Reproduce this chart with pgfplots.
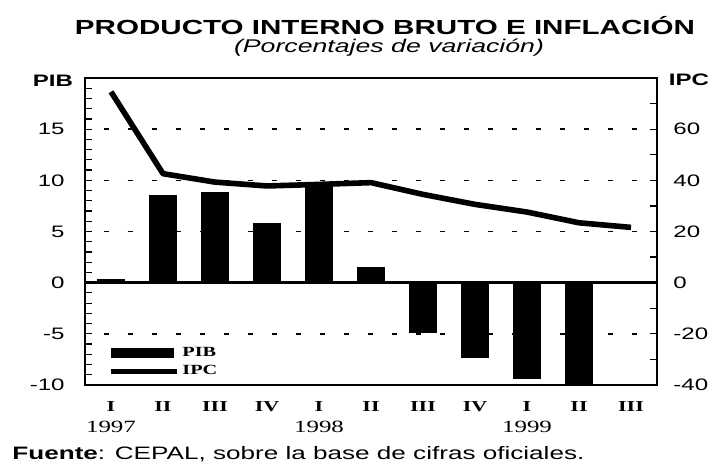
\documentclass[border=0pt]{standalone}
\usepackage{fontspec}
\setmainfont{Liberation Sans}[FakeStretch=1.45]
\newfontfamily\serifw{Liberation Serif}[FakeStretch=1.45]
\usepackage{pgfplots}
\pgfplotsset{compat=1.18}

\newcommand{\rn}[1]{{\serifw\bfseries\fontsize{7.6}{8}\selectfont #1}}
\newcommand{\yr}[1]{{\serifw\fontsize{8.6}{9}\selectfont #1}}

\pgfplotsset{
  cepal/.style={
    width=286pt, height=153.5pt, scale only axis,
    xmin=-0.5, xmax=10.5,
    axis line style={line width=1pt},
    tick style={line width=0.6pt, black},
    major tick length=3.5pt, minor tick length=3.5pt,
    tick align=inside,
    yticklabel style={font=\fontsize{8.3}{9}\selectfont, inner sep=0pt},
  }
}

\begin{document}
\begin{tikzpicture}
% eje izquierdo: PIB (barras)
\begin{axis}[
  cepal, name=ax,
  ymin=-10, ymax=20,
  ytick={-10,-5,0,5,10,15},
  yticklabels={-10,-5,0,5,10,15},
  minor ytick={-9,-8,...,19},
  ytick pos=left,
  yticklabel style={anchor=east, xshift=-10pt},
  xtick={0,...,10},
  xtick style={draw=none},
  xticklabels={{\rn{I}\\[-1.5pt]\yr{1997}}, \rn{II}, \rn{III}, \rn{IV},
               {\rn{I}\\[-1.5pt]\yr{1998}}, \rn{II}, \rn{III}, \rn{IV},
               {\rn{I}\\[-1.5pt]\yr{1999}}, \rn{II}, \rn{III}},
  xticklabel style={align=center, anchor=north, inner sep=0pt, yshift=-8pt},
  ymajorgrids,
  major grid style={black, line width=0.7pt, dash pattern=on 2.5pt off 9.5pt, dash phase=2.5pt},
]
  \addplot[ybar, bar width=13.5pt, fill=black, draw=black]
    coordinates {(0,0.3)(1,8.5)(2,8.8)(3,5.8)(4,9.5)(5,1.5)
                 (6,-4.9)(7,-7.3)(8,-9.4)(9,-9.8)};
  \draw[line width=1.5pt] (axis cs:-0.5,0) -- (axis cs:10.5,0);
\end{axis}

% eje derecho: IPC (linea)
\begin{axis}[
  cepal,
  ymin=-40, ymax=80,
  axis y line*=right, axis x line=none,
  ytick={-40,-20,0,20,40,60},
  yticklabels={-40,-20,0,20,40,60},
  minor ytick={-30,-10,10,30,50,70},
  yticklabel style={anchor=west, xshift=8pt},
  legend style={at={(axis description cs:0,0)}, anchor=south west,
    xshift=11.5pt, yshift=2pt, draw=none, fill=none,
    font=\serifw\bfseries\fontsize{7}{7}\selectfont,
    row sep=0pt, inner sep=0pt,
    nodes={inner sep=1.5pt}},
  legend cell align=left,
]
  \addlegendimage{legend image code/.code={\fill[black] (0pt,-2.2pt) rectangle (31pt,2.2pt);}}
  \addlegendentry{PIB}
  \addplot[black, line width=2.8pt, line join=round,
    legend image code/.code={\draw[black, line width=2.5pt] (0pt,0pt) -- (33pt,0pt);}]
    coordinates {(0,74.6)(1,42.6)(2,39.3)(3,37.8)(4,38.4)(5,39.1)
                 (6,34.5)(7,30.6)(8,27.6)(9,23.4)(10,21.6)};
  \addlegendentry{IPC}
\end{axis}

% titulos y textos
\node[anchor=base, font=\bfseries\fontsize{10.2}{12}\selectfont]
  at ([xshift=150pt, yshift=21.5pt]ax.north west) {PRODUCTO INTERNO BRUTO E INFLACIÓN};
\node[anchor=base, font=\itshape\fontsize{9.2}{10}\selectfont]
  at ([xshift=152pt, yshift=12.5pt]ax.north west) {(Porcentajes de variación)};
\node[anchor=base, font=\bfseries\fontsize{8.3}{9}\selectfont]
  at ([xshift=-16pt, yshift=-4.5pt]ax.north west) {PIB};
\node[anchor=base, font=\bfseries\fontsize{8.3}{9}\selectfont]
  at ([xshift=16pt, yshift=-4pt]ax.north east) {IPC};
\node[anchor=base west, inner sep=0pt, font=\fontsize{9}{10}\selectfont]
  at ([xshift=-36.5pt, yshift=-37.5pt]ax.south west) {\textbf{Fuente}: CEPAL, sobre la base de cifras oficiales.};

\pgfresetboundingbox
\path[use as bounding box] ([xshift=-42.5pt, yshift=-38.5pt]ax.south west)
  rectangle ([xshift=26.5pt, yshift=39pt]ax.north east);
\end{tikzpicture}
\end{document}
